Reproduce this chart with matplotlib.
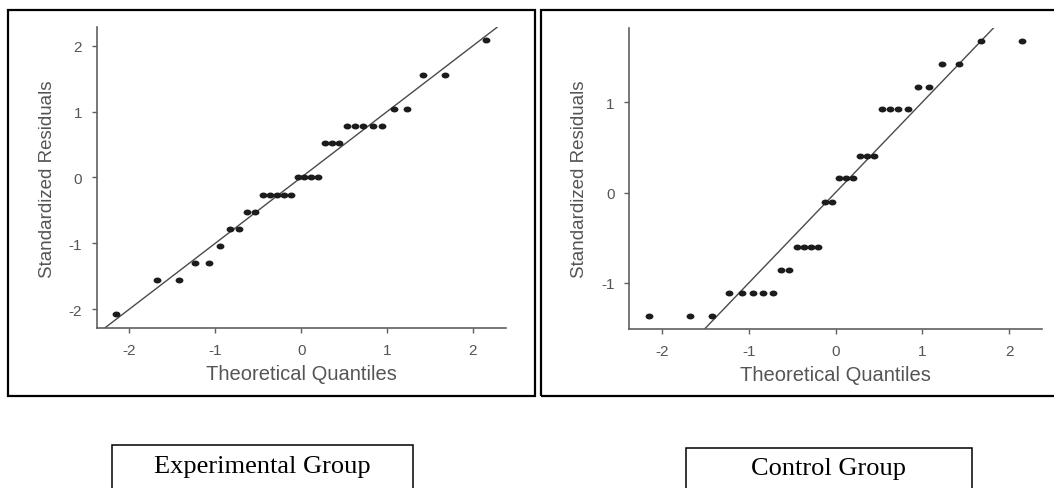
import numpy as np
import matplotlib
matplotlib.use("Agg")
import matplotlib.pyplot as plt
from matplotlib.patches import Rectangle

# theoretical normal quantiles (n = 32), shared by both panels
quantiles = [-2.154, -1.676, -1.418, -1.230, -1.078, -0.947, -0.831, -0.725,
             -0.626, -0.533, -0.445, -0.360, -0.278, -0.197, -0.118, -0.039,
             0.039, 0.118, 0.197, 0.278, 0.360, 0.445, 0.533, 0.626,
             0.725, 0.831, 0.947, 1.078, 1.230, 1.418, 1.676, 2.154]

# standardized residuals, experimental group
exp_resid = [-2.08, -1.56, -1.56, -1.30, -1.30, -1.04, -0.78, -0.78,
             -0.52, -0.52, -0.26, -0.26, -0.26, -0.26, -0.26, 0.00,
             0.00, 0.00, 0.00, 0.52, 0.52, 0.52, 0.78, 0.78,
             0.78, 0.78, 0.78, 1.04, 1.04, 1.56, 1.56, 2.08]

# standardized residuals, control group
ctl_resid = [-1.36, -1.36, -1.36, -1.11, -1.11, -1.11, -1.11, -1.11,
             -0.86, -0.86, -0.60, -0.60, -0.60, -0.60, -0.10, -0.10,
             0.16, 0.16, 0.16, 0.41, 0.41, 0.41, 0.92, 0.92,
             0.92, 0.92, 1.17, 1.17, 1.42, 1.42, 1.68, 1.68]

exp_yticks = [-2, -1, 0, 1, 2]
ctl_yticks = [-1, 0, 1]
xticks = [-2, -1, 0, 1, 2]

group_names = ["Experimental Group", "Control Group"]

plt.rcParams['font.family'] = ['Liberation Sans', 'DejaVu Sans']

fig = plt.figure(figsize=(10.54, 4.89), dpi=100)

# dots are a bit wider than tall in the original
t = np.linspace(0, 2 * np.pi, 40)
dot = list(zip(np.cos(t) * 1.33, np.sin(t)))

gray = "#555555"


def qq_panel(rect, resid, yticks, ylim):
    ax = fig.add_axes(rect)
    ax.scatter(quantiles, resid, marker=dot, s=32, color="#1c1c1c",
               linewidths=0, zorder=3)
    ax.axline((0, 0), slope=1, color="#4a4a4a", lw=1.0, zorder=2)
    ax.set_xlim(-2.38, 2.38)
    ax.set_ylim(*ylim)
    ax.set_xticks(xticks)
    ax.set_yticks(yticks)
    ax.set_xticklabels([str(v) for v in xticks])
    ax.set_yticklabels([str(v) for v in yticks])
    for s in ["top", "right"]:
        ax.spines[s].set_visible(False)
    for s in ["left", "bottom"]:
        ax.spines[s].set_color("#606060")
        ax.spines[s].set_linewidth(1.2)
    ax.tick_params(direction="out", length=3.5, width=1.0, color="#606060",
                   labelcolor=gray, labelsize=11, pad=7)
    ax.set_xlabel("Theoretical Quantiles", fontsize=14.5, color=gray, labelpad=5)
    ax.set_ylabel("Standardized Residuals", fontsize=13.5, color=gray, labelpad=9)
    return ax


qq_panel([0.0917, 0.3266, 0.388, 0.6155], exp_resid, exp_yticks, (-2.29, 2.28))
qq_panel([0.5968, 0.3250, 0.3918, 0.6155], ctl_resid, ctl_yticks, (-1.51, 1.82))

# outer frames around each plot
fig.patches.append(Rectangle((0.0076, 0.1881), 0.5000, 0.7894, fill=False,
                             ec="black", lw=1.6, transform=fig.transFigure))
fig.patches.append(Rectangle((0.5133, 0.1881), 0.5000, 0.7894, fill=False,
                             ec="black", lw=1.6, transform=fig.transFigure))

# caption boxes below (cut off at the bottom edge)
fig.patches.append(Rectangle((0.1063, -0.05), 0.2856, 0.1384, fill=False,
                             ec="black", lw=1.1, transform=fig.transFigure))
fig.patches.append(Rectangle((0.6509, -0.05), 0.2713, 0.1323, fill=False,
                             ec="black", lw=1.1, transform=fig.transFigure))

fig.text(0.2490, 0.0334, group_names[0], ha="center", va="baseline",
         fontsize=19, family=["Liberation Serif", "DejaVu Serif"])
fig.text(0.7865, 0.0280, group_names[1], ha="center", va="baseline",
         fontsize=19, family=["Liberation Serif", "DejaVu Serif"])

fig.savefig("out.png", dpi=100, facecolor="white")
